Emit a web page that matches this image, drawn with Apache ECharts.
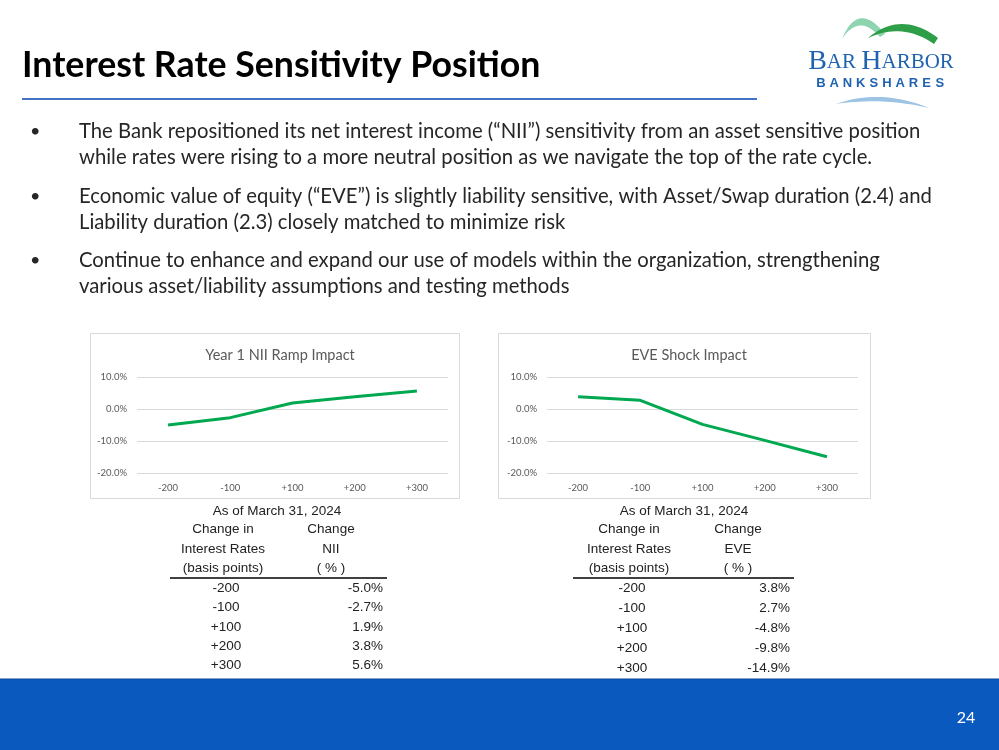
<!DOCTYPE html>
<html>
<head>
<meta charset="utf-8">
<script src="https://cdn.jsdelivr.net/npm/echarts@6/dist/echarts.min.js"></script>
<style>
  html, body { margin: 0; padding: 0; background: #fff; }
  #main { width: 999px; height: 750px; }
</style>
</head>
<body>
<div id="main"></div>
<script>
// data
var rates = ['-200', '-100', '+100', '+200', '+300'];
var niiChange = [-5.0, -2.7, 1.9, 3.8, 5.6];
var eveChange = [3.8, 2.7, -4.8, -9.8, -14.9];
var yMin = -20, yMax = 10, yStep = 10;

var bullets = [
  ['The Bank repositioned its net interest income (\u201CNII\u201D) sensitivity from an asset sensitive position',
   'while rates were rising to a more neutral position as we navigate the top of the rate cycle.'],
  ['Economic value of equity (\u201CEVE\u201D) is slightly liability sensitive, with Asset/Swap duration (2.4) and',
   'Liability duration (2.3) closely matched to minimize risk'],
  ['Continue to enhance and expand our use of models within the organization, strengthening',
   'various asset/liability assumptions and testing methods']
];

var chart = echarts.init(document.getElementById('main'), null, { renderer: 'canvas' });

var txtFont = 'Lato, "Noto Sans", sans-serif';
var tblFont = '"Liberation Sans", Arial, sans-serif';
var green = '#00A84F';

var pct = function (v) { return v.toFixed(1) + '%'; };

// crescent shape for the logo: outer quad curve then inner quad curve back
function crescent(p0, c0, p1, p2, c1, p3) {
  var pts = [];
  var q = function (a, c, b, t) {
    return [(1 - t) * (1 - t) * a[0] + 2 * (1 - t) * t * c[0] + t * t * b[0],
            (1 - t) * (1 - t) * a[1] + 2 * (1 - t) * t * c[1] + t * t * b[1]];
  };
  for (var i = 0; i <= 20; i++) pts.push(q(p0, c0, p1, i / 20));
  for (var j = 0; j <= 20; j++) pts.push(q(p2, c1, p3, j / 20));
  return pts;
}

var g = [];

// title + rule
g.push({ type: 'text', x: 22, y: 65, style: { text: 'Interest Rate Sensitivity Position', verticalAlign: 'middle', font: 'bold 35.7px ' + txtFont, fill: '#000' } });
g.push({ type: 'line', shape: { x1: 22, y1: 99, x2: 757, y2: 99 }, style: { stroke: '#4472C4', lineWidth: 2 } });

// logo
g.push({ type: 'polygon', shape: { points: crescent([842, 39], [858, 0], [885, 34], [880, 37], [859, 13], [842, 39]) }, style: { fill: '#8FD4B0' } });
g.push({ type: 'polygon', shape: { points: crescent([868, 38], [901, 10], [938, 38], [934, 44], [903, 22], [868, 38]) }, style: { fill: '#2E9F48' } });
g.push({ type: 'polygon', shape: { points: crescent([836, 104], [880, 88], [929, 108], [929, 108], [882, 97], [836, 104]) }, style: { fill: '#9CC3E4' } });
g.push({
  type: 'text', x: 881, y: 62,
  style: {
    text: '{b|B}{s|AR }{b|H}{s|ARBOR}', align: 'center', verticalAlign: 'middle',
    rich: {
      b: { fontFamily: '"Liberation Serif", serif', fontSize: 28, fill: '#1F63AF', color: '#1F63AF' },
      s: { fontFamily: '"Liberation Serif", serif', fontSize: 21, fill: '#1F63AF', color: '#1F63AF' }
    }
  }
});
'BANKSHARES'.split('').forEach(function (ch, i) {
  g.push({ type: 'text', x: 821 + i * 13.2, y: 83, style: { text: ch, align: 'center', verticalAlign: 'middle', font: 'bold 13px ' + tblFont, fill: '#1F63AF' } });
});

// bullets
var lineY = [[131, 157], [196, 222], [260, 286]];
bullets.forEach(function (b, i) {
  g.push({ type: 'text', x: 30, y: lineY[i][0], style: { text: '\u2022', verticalAlign: 'middle', font: '18px ' + txtFont, fill: '#262626' } });
  b.forEach(function (ln, j) {
    g.push({ type: 'text', x: 79, y: lineY[i][j], style: { text: ln, verticalAlign: 'middle', font: '20.3px ' + txtFont, fill: '#262626' } });
  });
});

// chart frames
g.push({ type: 'rect', shape: { x: 90.5, y: 333.5, width: 369, height: 165 }, style: { fill: 'none', stroke: '#d9d9d9', lineWidth: 1 } });
g.push({ type: 'rect', shape: { x: 498.5, y: 333.5, width: 372, height: 165 }, style: { fill: 'none', stroke: '#d9d9d9', lineWidth: 1 } });

// tables
function table(cx, leftCol, rightCol, lineX1, lineX2, label, vals, rowY) {
  var f = '13.5px ' + tblFont;
  var t = function (x, y, s, al) {
    g.push({ type: 'text', x: x, y: y, style: { text: s, align: al || 'center', verticalAlign: 'middle', font: f, fill: '#222' } });
  };
  t(cx, 511, 'As of March 31, 2024');
  t(leftCol, 529, 'Change in'); t(rightCol, 529, 'Change');
  t(leftCol, 549, 'Interest Rates'); t(rightCol, 549, label);
  t(leftCol, 568, '(basis points)'); t(rightCol, 568, '( % )');
  g.push({ type: 'line', shape: { x1: lineX1, y1: 578, x2: lineX2, y2: 578 }, style: { stroke: '#000', lineWidth: 1.5 } });
  rates.forEach(function (r, i) {
    t(leftCol + 3, rowY[i], r);
    t(lineX2 - 4, rowY[i], pct(vals[i]), 'right');
  });
}
table(277, 223, 331, 170, 387, 'NII', niiChange, [588, 607, 627, 646, 665]);
table(684, 629, 738, 573, 794, 'EVE', eveChange, [588, 608, 628, 648, 668]);

// footer
g.push({ type: 'rect', shape: { x: 0, y: 679, width: 999, height: 71 }, style: { fill: '#0A59BE' } });
g.push({ type: 'line', shape: { x1: 0, y1: 679, x2: 999, y2: 679 }, style: { stroke: '#08479a', lineWidth: 1 } });
g.push({ type: 'text', x: 966, y: 718, style: { text: '24', align: 'center', verticalAlign: 'middle', font: '16px ' + txtFont, fill: '#fff' } });

function xAx(idx) {
  return {
    type: 'category', gridIndex: idx, data: rates,
    axisLine: { show: false }, axisTick: { show: false },
    axisLabel: { color: '#595959', fontSize: 9.5, fontFamily: txtFont, margin: 10 }
  };
}
function yAx(idx) {
  return {
    type: 'value', gridIndex: idx, min: yMin, max: yMax, interval: yStep,
    axisLine: { show: false }, axisTick: { show: false },
    axisLabel: { color: '#595959', fontSize: 9.5, fontFamily: txtFont, formatter: pct, margin: 10 },
    splitLine: { lineStyle: { color: '#d9d9d9', width: 1 } }
  };
}
function lineSeries(idx, data) {
  return {
    type: 'line', xAxisIndex: idx, yAxisIndex: idx, data: data,
    symbol: 'none', lineStyle: { color: green, width: 3 }, itemStyle: { color: green }, animation: false
  };
}

chart.setOption({
  animation: false,
  title: [
    { text: 'Year 1 NII Ramp Impact', left: 275, top: 343, textAlign: 'center', textStyle: { fontFamily: txtFont, fontSize: 14.5, fontWeight: 'normal', color: '#595959' } },
    { text: 'EVE Shock Impact', left: 684, top: 343, textAlign: 'center', textStyle: { fontFamily: txtFont, fontSize: 14.5, fontWeight: 'normal', color: '#595959' } }
  ],
  grid: [
    { left: 137, top: 377, width: 311, height: 96 },
    { left: 547, top: 377, width: 311, height: 96 }
  ],
  xAxis: [xAx(0), xAx(1)],
  yAxis: [yAx(0), yAx(1)],
  series: [lineSeries(0, niiChange), lineSeries(1, eveChange)],
  graphic: g
});
</script>
</body>
</html>
